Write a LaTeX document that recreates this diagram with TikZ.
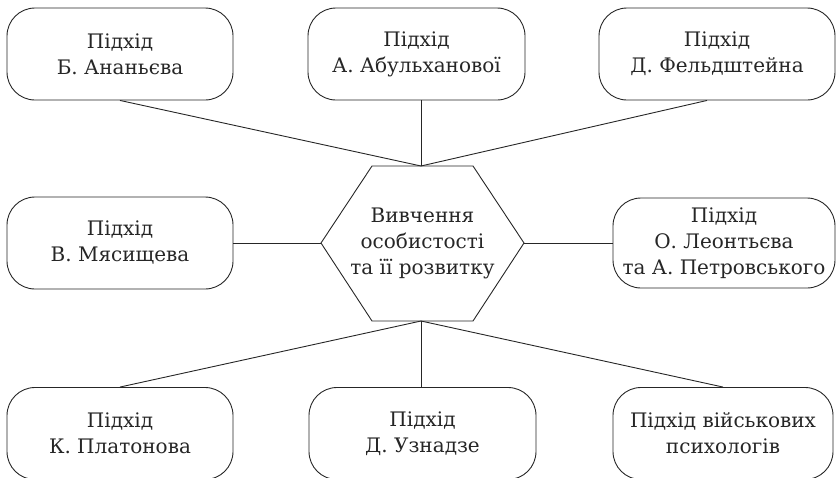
\documentclass[tikz,border=0pt]{standalone}
\usepackage{fontspec}
\setmainfont{DejaVu Serif}
\usetikzlibrary{calc}
\definecolor{ink}{HTML}{262626}
\begin{document}
\begin{tikzpicture}[x=1pt,y=-1pt,
  approach/.style={draw=ink, line width=0.9pt, rounded corners=28pt,
    align=center, text=ink, inner sep=0pt,
    font=\fontsize{20}{26}\selectfont},
  core/.style={align=center, text=ink, inner sep=0pt,
    font=\fontsize{20}{26}\selectfont},
  link/.style={draw=ink, line width=0.9pt}]
\useasboundingbox (0,0) rectangle (836,477);

% top row
\node[approach, minimum width=226pt, minimum height=92pt] (anan) at (120,54) {Підхід\\Б. Ананьєва};
\node[approach, minimum width=217pt, minimum height=92pt] (abul) at (416.5,54) {Підхід\\А. Абульханової};
\node[approach, minimum width=236pt, minimum height=92pt] (feld) at (717,54) {Підхід\\Д. Фельдштейна};

% middle row
\node[approach, minimum width=226pt, minimum height=92pt] (mias) at (120,243) {Підхід\\В. Мясищева};
\node[approach, minimum width=222pt, minimum height=90pt] (leon) at (724,243) {Підхід\\О. Леонтьєва\\та А. Петровського};

% bottom row, running past the lower edge
\node[approach, minimum width=226pt, minimum height=92pt] (plat) at (120,433.5) {Підхід\\К. Платонова};
\node[approach, minimum width=227pt, minimum height=92pt] (uzn) at (422.5,433.5) {Підхід\\Д. Узнадзе};
\node[approach, minimum width=220pt, minimum height=92pt] (mil) at (723,433.5) {Підхід військових\\психологів};

% central hexagon
\coordinate (hexL) at (321,243);
\coordinate (hexR) at (524,243);
\coordinate (hexT) at (421,166);
\coordinate (hexB) at (421,321);
\draw[link] (hexL) -- (372,166) -- (473,166) -- (hexR) -- (473,321) -- (372,321) -- cycle;
\node[core] (hex) at (422.5,243) {Вивчення\\особистості\\та її розвитку};

% connectors
\draw[link] (anan.south) -- (hexT);
\draw[link] (abul.south -| hexT) -- (hexT);
\draw[link] ($(feld.south)+(-10,0)$) -- (hexT);
\draw[link] (mias.east) -- (hexL);
\draw[link] (hexR) -- (leon.west);
\draw[link] (hexB) -- (plat.north);
\draw[link] (hexB) -- (hexB |- uzn.north);
\draw[link] (hexB) -- (mil.north);
\end{tikzpicture}
\end{document}
